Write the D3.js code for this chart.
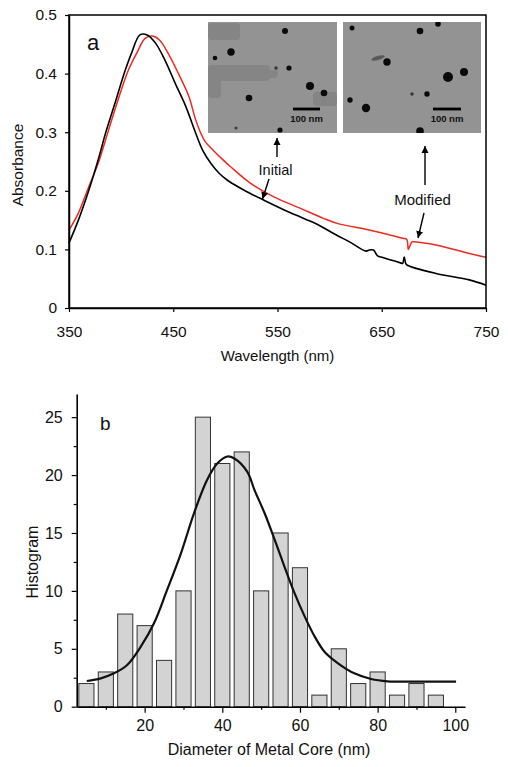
<!DOCTYPE html>
<html><head><meta charset="utf-8">
<script src="https://cdn.jsdelivr.net/npm/d3@7"></script>
<style>
html,body{margin:0;padding:0;background:#fff;}
svg{display:block;font-family:"Liberation Sans",Arial,sans-serif;}
</style></head>
<body>
<svg id="chart" width="508" height="767"></svg>
<script>
// ---------- Panel a data ----------
const initialWl  = [350,359,369,378,385,394,404,410,418,425,433,442,452,462,472,478,486,494,502,518,537,563,588,606,620,635,638,642,646,651,668,670,671.5,673,674.5,702,734,750];
const initialAbs = [0.111,0.150,0.201,0.253,0.298,0.349,0.406,0.435,0.466,0.466,0.452,0.423,0.383,0.344,0.296,0.270,0.247,0.230,0.218,0.201,0.184,0.162,0.143,0.125,0.112,0.097,0.099,0.099,0.089,0.086,0.077,0.076,0.087,0.076,0.073,0.059,0.048,0.039];
const modifiedWl  = [350,359,369,378,388,397,407,415,423,430,437,445,455,465,471,476,481,489,497,505,524,546,572,594,608,638,670,674,675.5,677,679,681,702,734,750];
const modifiedAbs = [0.133,0.162,0.207,0.247,0.304,0.355,0.406,0.435,0.460,0.464,0.457,0.435,0.400,0.361,0.324,0.300,0.283,0.268,0.254,0.241,0.213,0.190,0.170,0.153,0.144,0.133,0.119,0.117,0.100,0.106,0.113,0.113,0.1075,0.093,0.0865];
const wlTicks  = [350,450,550,650,750];
const absTicks = [0,0.1,0.2,0.3,0.4,0.5];

// ---------- Panel b data ----------
const binCenters = [5,10,15,20,25,30,35,40,45,50,55,60,65,70,75,80,85,90,95];
const binCounts  = [2,3,8,7,4,10,25,21,22,10,15,12,1,5,2,3,1,2,1];
const fitX = [5.1,8.7,12.1,15.5,19.0,22.4,25.8,29.3,32.7,36.1,38.7,41.3,43.0,46.4,48.3,50.9,53.5,56.0,58.6,61.2,63.8,66.3,69.8,74.0,78.3,82.6,86.9,91.2,100.2];
const fitY = [2.22,2.45,2.88,3.6,5.18,7.2,10.1,13.2,16.7,19.6,21.0,21.6,21.45,20.3,18.7,16.7,14.4,12.1,9.8,7.8,6.05,4.75,3.75,2.88,2.39,2.19,2.16,2.16,2.16];
const diamMajor = [20,40,60,80,100];
const diamMinor = [10,30,50,70,90];
const countMajor = [0,5,10,15,20,25];
const countMinor = [2.5,7.5,12.5,17.5,22.5];

const svg = d3.select("#chart");
const FONT = '"Liberation Sans",Arial,sans-serif';

const defs = svg.append("defs");
defs.append("marker").attr("id","arr").attr("viewBox","0 0 10 10")
  .attr("refX",10).attr("refY",5).attr("markerWidth",7).attr("markerHeight",8)
  .attr("markerUnits","userSpaceOnUse").attr("orient","auto")
  .append("path").attr("d","M0,0 L10,5 L0,10 Z").attr("fill","#000");

// ================= Panel a =================
const xA = d3.scaleLinear().domain([350,750]).range([69,486]);
const yA = d3.scaleLinear().domain([0,0.5]).range([308,15]);
const gA = svg.append("g");

// insets (approximate micrographs)
const insets = [
  {x:208,y:22,w:129,h:111,
   patches:[[0,1,32,17],[0,43,62,16],[0,43,13,33],[105,70,24,14],[40,48,30,8]],
   dots:[[77,9,3],[23,30,3.7],[7,36,2.3],[68,46,1.8],[81,46,2.6],[102,64,4],[116,71,3.3],[41,76,3.3],[72,108,2.6],[28,106,1.5]],
   bar:[85,112]},
  {x:343,y:22,w:138,h:111,
   patches:[],
   dots:[[9,6,2.5],[77,9,3.3],[95,2,2.8],[44,40,3.7],[105,55,5],[121,50,4],[69,72,1.8],[84,72,2.7],[7,78,2.7],[23,86,4.2],[77,109,3.8]],
   bar:[90,118]}
];
insets.forEach((ins,i)=>{
  const g = gA.append("g").attr("transform",`translate(${ins.x},${ins.y})`);
  const cp = "clip"+i;
  defs.append("clipPath").attr("id",cp).append("rect").attr("width",ins.w).attr("height",ins.h);
  const gi = g.append("g").attr("clip-path",`url(#${cp})`);
  gi.append("rect").attr("width",ins.w).attr("height",ins.h).attr("fill","#939393");
  gi.selectAll(".p").data(ins.patches).join("rect")
    .attr("x",d=>d[0]).attr("y",d=>d[1]).attr("width",d=>d[2]).attr("height",d=>d[3])
    .attr("rx",4).attr("fill","#858585");
  if(i===1){
    gi.append("ellipse").attr("cx",35).attr("cy",36).attr("rx",7).attr("ry",2)
      .attr("transform","rotate(-15,35,36)").attr("fill","#5a5a5a");
  }
  gi.selectAll(".d").data(ins.dots).join("circle")
    .attr("cx",d=>d[0]).attr("cy",d=>d[1]).attr("r",d=>d[2])
    .attr("fill",d=>d[2]<2?"#3a3a3a":"#0a0a0a");
  g.append("line").attr("x1",ins.bar[0]).attr("x2",ins.bar[1]).attr("y1",87).attr("y2",87)
    .attr("stroke","#000").attr("stroke-width",2.8);
  g.append("text").attr("x",(ins.bar[0]+ins.bar[1])/2).attr("y",100)
    .attr("text-anchor","middle").attr("font-size",9.5).attr("font-weight","bold")
    .attr("fill","#111").text("100 nm");
});

// curves
const lineA = d3.line().x(d=>xA(d[0])).y(d=>yA(d[1])).curve(d3.curveCatmullRom.alpha(0.5));
gA.append("path").datum(d3.zip(modifiedWl,modifiedAbs)).attr("d",lineA)
  .attr("fill","none").attr("stroke","#ee2a1f").attr("stroke-width",1.5);
gA.append("path").datum(d3.zip(initialWl,initialAbs)).attr("d",lineA)
  .attr("fill","none").attr("stroke","#000").attr("stroke-width",1.6);

// frame
gA.append("rect").attr("x",69).attr("y",15).attr("width",417).attr("height",293)
  .attr("fill","none").attr("stroke","#000").attr("stroke-width",1.5);

// axes
const axLA = d3.axisLeft(yA).tickValues(absTicks).tickSize(4).tickSizeOuter(0).tickPadding(8)
  .tickFormat(d=>d===0?"0":d3.format(".1f")(d));
const gyA = gA.append("g").attr("transform","translate(69,0)").call(axLA);
const axBA = d3.axisBottom(xA).tickValues(wlTicks).tickSize(4).tickSizeOuter(0).tickPadding(14);
const gxA = gA.append("g").attr("transform","translate(0,308)").call(axBA);
[gyA,gxA].forEach(g=>{
  g.select(".domain").attr("stroke","#000").attr("stroke-width",1.5);
  g.selectAll(".tick line").attr("stroke","#000").attr("stroke-width",1.2);
  g.selectAll("text").attr("font-family",FONT).attr("font-size",15.5).attr("fill","#111");
});

gA.append("text").attr("transform","translate(23,165) rotate(-90)").attr("text-anchor","middle")
  .attr("font-size",15.5).attr("fill","#111").text("Absorbance");
gA.append("text").attr("x",277.5).attr("y",361).attr("text-anchor","middle")
  .attr("font-size",15).attr("fill","#111").text("Wavelength (nm)");
gA.append("text").attr("x",87).attr("y",50).attr("font-size",22).attr("fill","#111").text("a");

// annotations
gA.append("line").attr("x1",277).attr("y1",157).attr("x2",277).attr("y2",138)
  .attr("stroke","#000").attr("stroke-width",1.4).attr("marker-end","url(#arr)");
gA.append("text").attr("x",275.5).attr("y",175).attr("text-anchor","middle")
  .attr("font-size",14.5).attr("fill","#111").text("Initial");
gA.append("line").attr("x1",269).attr("y1",179).attr("x2",262.5).attr("y2",199)
  .attr("stroke","#000").attr("stroke-width",1.4).attr("marker-end","url(#arr)");
gA.append("line").attr("x1",425).attr("y1",185).attr("x2",425).attr("y2",146)
  .attr("stroke","#000").attr("stroke-width",1.4).attr("marker-end","url(#arr)");
gA.append("text").attr("x",422.5).attr("y",205).attr("text-anchor","middle")
  .attr("font-size",15).attr("fill","#111").text("Modified");
gA.append("line").attr("x1",424).attr("y1",213).attr("x2",418).attr("y2",238)
  .attr("stroke","#000").attr("stroke-width",1.4).attr("marker-end","url(#arr)");

// ================= Panel b =================
const xB = d3.scaleLinear().domain([2.5,102.5]).range([76.7,465]);
const yB = d3.scaleLinear().domain([0,27]).range([706.7,394]);
const gB = svg.append("g");
const binW = 3.9;

gB.selectAll(".bar").data(d3.zip(binCenters,binCounts)).join("rect")
  .attr("x",d=>xB(d[0]-binW/2)).attr("width",d=>xB(d[0]+binW/2)-xB(d[0]-binW/2))
  .attr("y",d=>yB(d[1])).attr("height",d=>yB(0)-yB(d[1]))
  .attr("fill","#d3d3d3").attr("stroke","#333").attr("stroke-width",1);

const lineB = d3.line().x(d=>xB(d[0])).y(d=>yB(d[1])).curve(d3.curveCatmullRom.alpha(0.5));
gB.append("path").datum(d3.zip(fitX,fitY)).attr("d",lineB)
  .attr("fill","none").attr("stroke","#111").attr("stroke-width",2.2);

// minor ticks
const gyBm = gB.append("g").attr("transform","translate(76.7,0)")
  .call(d3.axisLeft(yB).tickValues(countMinor).tickSize(3).tickFormat(""));
const gxBm = gB.append("g").attr("transform","translate(0,706.7)")
  .call(d3.axisBottom(xB).tickValues(diamMinor).tickSize(3).tickFormat(""));
[gyBm,gxBm].forEach(g=>{ g.select(".domain").remove(); g.selectAll(".tick line").attr("stroke","#000").attr("stroke-width",1.2); });

const gyB = gB.append("g").attr("transform","translate(76.7,0)")
  .call(d3.axisLeft(yB).tickValues(countMajor).tickSize(5).tickSizeOuter(0).tickPadding(9));
const gxB = gB.append("g").attr("transform","translate(0,706.7)")
  .call(d3.axisBottom(xB).tickValues(diamMajor).tickSize(6).tickSizeOuter(0).tickPadding(6.5));
[gyB,gxB].forEach(g=>{
  g.select(".domain").attr("stroke","#000").attr("stroke-width",1.6);
  g.selectAll(".tick line").attr("stroke","#000").attr("stroke-width",1.2);
  g.selectAll("text").attr("font-family",FONT).attr("font-size",16).attr("fill","#111");
});

gB.append("text").attr("transform","translate(38,562) rotate(-90)").attr("text-anchor","middle")
  .attr("font-size",16).attr("fill","#111").text("Histogram");
gB.append("text").attr("x",269).attr("y",755).attr("text-anchor","middle")
  .attr("font-size",16).attr("fill","#111").text("Diameter of Metal Core (nm)");
gB.append("text").attr("x",100).attr("y",430).attr("font-size",19).attr("fill","#111").text("b");
</script>
</body></html>
